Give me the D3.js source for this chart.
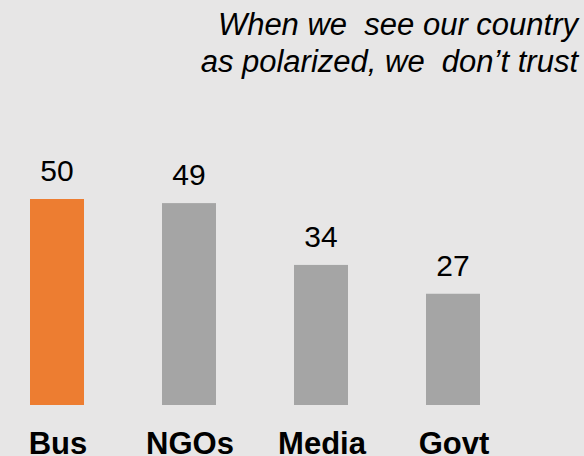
<!DOCTYPE html>
<html>
<head>
<meta charset="utf-8">
<script src="https://cdn.jsdelivr.net/npm/d3@7"></script>
<style>
  html, body { margin: 0; padding: 0; background: #E7E6E6; }
  svg { display: block; }
  text { font-family: "Liberation Sans", Arial, sans-serif; }
</style>
</head>
<body>
<svg id="chart" width="584" height="456"></svg>
<script>
// Trust by institution
const categories = ["Bus", "NGOs", "Media", "Govt"];
const values = [50, 49, 34, 27];
const highlight = "Bus";
const titleLines = ["When we  see our country", "as polarized, we  don\u2019t trust"];

const W = 584, H = 456;
const svg = d3.select("#chart");

svg.append("rect").attr("width", W).attr("height", H).attr("fill", "#E7E6E6");

const x = d3.scaleBand()
  .domain(categories)
  .range([-9, 519])
  .paddingInner(0.5909)
  .paddingOuter(0.2955);

const y = d3.scaleLinear()
  .domain([0, 50])
  .range([405, 199]);

const data = categories.map((c, i) => ({ cat: c, val: values[i] }));

// Bars
svg.append("g").selectAll("rect")
  .data(data)
  .join("rect")
  .attr("x", d => x(d.cat))
  .attr("y", d => y(d.val))
  .attr("width", x.bandwidth())
  .attr("height", d => y(0) - y(d.val))
  .attr("fill", d => d.cat === highlight ? "#ED7D31" : "#A5A5A5");

// Value labels
svg.append("g").selectAll("text")
  .data(data)
  .join("text")
  .attr("x", d => x(d.cat) + x.bandwidth() / 2)
  .attr("y", d => y(d.val) - 18)
  .attr("text-anchor", "middle")
  .attr("font-size", 30)
  .attr("fill", "#000")
  .text(d => d.val);

// Category axis labels
const xAxis = d3.axisBottom(x).tickSize(0).tickPadding(0);
const ax = svg.append("g")
  .attr("transform", "translate(1,454)")
  .call(xAxis);
ax.select(".domain").remove();
ax.selectAll("text")
  .attr("dy", 0)
  .attr("font-family", "'Liberation Sans', Arial, sans-serif")
  .attr("font-size", 31)
  .attr("font-weight", "bold")
  .attr("fill", "#000");

// Title
svg.append("g").selectAll("text")
  .data(titleLines)
  .join("text")
  .attr("x", 578)
  .attr("y", (d, i) => 35 + i * 37)
  .attr("text-anchor", "end")
  .attr("font-size", 31)
  .attr("font-style", "italic")
  .attr("fill", "#000")
  .style("white-space", "pre")
  .text(d => d);
</script>
</body>
</html>
